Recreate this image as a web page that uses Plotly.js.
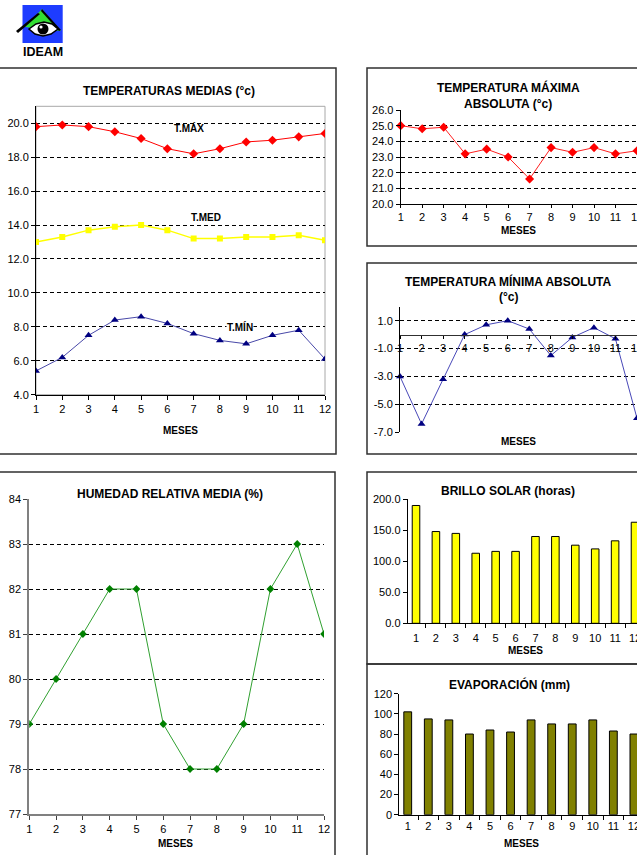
<!DOCTYPE html>
<html><head><meta charset="utf-8">
<script src="https://cdn.plot.ly/plotly-3.0.1.min.js"></script>
<style>html,body{margin:0;padding:0;background:#fff;}#chart{width:637px;height:855px;}</style>
</head><body><div id="chart"></div>
<script>
// ---- data ----
const meses = [1,2,3,4,5,6,7,8,9,10,11,12];
const mesesCat = ['1','2','3','4','5','6','7','8','9','10','11','12'];
const tMax = [19.8,19.9,19.8,19.5,19.1,18.5,18.2,18.5,18.9,19.0,19.2,19.4];
const tMed = [13.0,13.3,13.7,13.9,14.0,13.7,13.2,13.2,13.3,13.3,13.4,13.1];
const tMin = [5.4,6.2,7.5,8.4,8.6,8.2,7.6,7.2,7.0,7.5,7.8,6.1];
const tMaxAbs = [25.0,24.8,24.9,23.2,23.5,23.0,21.6,23.6,23.3,23.6,23.2,23.4];
const tMinAbs = [-3.0,-6.4,-3.2,0.0,0.7,1.0,0.4,-1.5,-0.2,0.5,-0.3,-6.0];
const humedad = [79,80,81,82,82,79,78,78,79,82,83,81];
const brillo = [190,148,145,113,116,116,140,140,126,120,133,163];
const evap = [102,95,94,80,84,82,94,90,90,94,83,80];
// tick labels
const tMinTickVals = [-7,-5,-3,-1,1];
const tMinTickText = ['-7.0','-5.0','-3.0','-1.0','1.0'];
// gridline levels
const gridMedias = [6,8,10,12,14,16,18,20];
const gridMaxAbs = [21,22,23,24,25];
const gridMinAbs = [-5,-3,-1,1];
const gridHum = [78,79,80,81,82,83];

// ---- helpers ----
const W = 637, H = 855;
const F = 'Arial, "Liberation Sans", sans-serif';
const px = v => v / W;
const py = v => 1 - v / H;
function ann(text, x, y, size, bold) {
  return {text: bold ? '<b>' + text + '</b>' : text, xref:'paper', yref:'paper',
    x: px(x), y: py(y), showarrow:false, xanchor:'center', yanchor:'middle',
    font:{family:F, size:size, color:'#000'}};
}
function box(x0, y0, x1, y1, color, w) {
  return {type:'rect', xref:'paper', yref:'paper', x0:px(x0), x1:px(x1), y0:py(y0), y1:py(y1),
    line:{color:color, width:w}, fillcolor:'rgba(0,0,0,0)', layer:'below'};
}
function poly(pts, fill, lineColor, lw) {
  let d = pts.map((p, i) => (i ? 'L' : 'M') + px(p[0]).toFixed(5) + ',' + py(p[1]).toFixed(5)).join(' ') + ' Z';
  return {type:'path', xref:'paper', yref:'paper', path:d, fillcolor:fill,
    line:{color:lineColor || fill, width: lw || 0}, layer:'above'};
}
function circ(cx, cy, rx, ry, fill, lineColor, lw) {
  return {type:'circle', xref:'paper', yref:'paper', x0:px(cx-rx), x1:px(cx+rx), y0:py(cy+ry), y1:py(cy-ry),
    fillcolor:fill, line:{color:lineColor || fill, width: lw || 0}, layer:'above'};
}
function axis(extra) {
  return Object.assign({showline:true, linecolor:'#000', linewidth:1, ticks:'outside', ticklen:4,
    tickcolor:'#000', tickwidth:1, tickfont:{family:F, size:11, color:'#000'}, tickangle:0,
    showgrid:false, zeroline:false, fixedrange:true}, extra);
}
function grid(vals) {
  return {tickmode:'array', tickvals:vals, showgrid:true, gridcolor:'#000', gridwidth:1, griddash:'4px,3px', ticks:''};
}

// domains
const y3dom = [py(432.3), py(306.7)];
const y3range = [-7, 2];
const x3pos = y3dom[0] + (0 - y3range[0]) / (y3range[1] - y3range[0]) * (y3dom[1] - y3dom[0]);

const traces = [
  {x:meses, y:tMax, xaxis:'x', yaxis:'y', mode:'lines+markers', line:{color:'#ff0000', width:1},
   marker:{symbol:'diamond', size:7, color:'#ff0000'}},
  {x:meses, y:tMed, xaxis:'x', yaxis:'y', mode:'lines+markers', line:{color:'#ffff00', width:1.5},
   marker:{symbol:'square', size:6, color:'#ffff00'}},
  {x:meses, y:tMin, xaxis:'x', yaxis:'y', mode:'lines+markers', line:{color:'#4848a8', width:1},
   marker:{symbol:'triangle-up', size:7, color:'#000080'}},
  {x:meses, y:tMaxAbs, xaxis:'x2', yaxis:'y2', mode:'lines+markers', line:{color:'#ff2020', width:1},
   marker:{symbol:'diamond', size:7, color:'#ff0000'}, cliponaxis:false},
  {x:meses, y:tMinAbs, xaxis:'x3', yaxis:'y3', mode:'lines+markers', line:{color:'#4848b8', width:1},
   marker:{symbol:'triangle-up', size:7, color:'#000080'}, cliponaxis:false},
  {x:meses, y:humedad, xaxis:'x4', yaxis:'y4', mode:'lines+markers', line:{color:'#30a030', width:1},
   marker:{symbol:'diamond', size:6, color:'#008000'}},
  {x:mesesCat, y:brillo, xaxis:'x5', yaxis:'y5', type:'bar',
   marker:{color:'#ffff00', line:{color:'#000', width:1}}},
  {x:mesesCat, y:evap, xaxis:'x6', yaxis:'y6', type:'bar',
   marker:{color:'#808000', line:{color:'#000', width:1}}}
];

const layout = {
  width:W, height:H, margin:{l:0, r:0, t:0, b:0, pad:0},
  paper_bgcolor:'#fff', plot_bgcolor:'rgba(0,0,0,0)', showlegend:false, bargap:0.62,
  font:{family:F, size:11, color:'#000'},
  xaxis: axis({domain:[px(36), px(325)], range:[1,12], tickmode:'array', tickvals:meses, anchor:'y'}),
  yaxis: axis({domain:[py(394.7), py(106.3)], range:[4,21], tick0:4, dtick:2, tickformat:'.1f', anchor:'x', minor:grid(gridMedias)}),
  xaxis2: axis({domain:[px(400.7), 1], range:[1,12], tickmode:'array', tickvals:meses, anchor:'y2', ticklen:3, ticklabeloverflow:'allow'}),
  yaxis2: axis({domain:[py(204), py(110)], range:[20,26], tick0:20, dtick:1, tickformat:'.1f', anchor:'x2', minor:grid(gridMaxAbs)}),
  xaxis3: axis({domain:[px(400), 1], range:[1,12], tickmode:'array', tickvals:meses, anchor:'free', position:x3pos,
    linecolor:'#303030', ticklen:3, ticklabeloverflow:'allow'}),
  yaxis3: axis({domain:y3dom, range:y3range, tickmode:'array', tickvals:tMinTickVals, ticktext:tMinTickText, anchor:'x3', minor:grid(gridMinAbs)}),
  xaxis4: axis({domain:[px(29.3), px(324)], range:[1,12], tickmode:'array', tickvals:meses, anchor:'y4',
    linecolor:'#808080', linewidth:2, tickcolor:'#404040'}),
  yaxis4: axis({domain:[py(814), py(499)], range:[77,84], tick0:77, dtick:1, anchor:'x4',
    linecolor:'#808080', linewidth:2, tickcolor:'#404040', minor:grid(gridHum)}),
  xaxis5: axis({type:'category', domain:[px(407.7), 1], range:[-0.417, 11.1], tickson:'boundaries', anchor:'y5',
    ticklabeloverflow:'allow', ticklabelstandoff:4}),
  yaxis5: axis({domain:[py(623.3), py(499.3)], range:[0,200], tick0:0, dtick:50, tickformat:'.1f', anchor:'x5'}),
  xaxis6: axis({type:'category', domain:[px(399.3), 1], range:[-0.41, 11.15], tickson:'boundaries', anchor:'y6',
    ticklabeloverflow:'allow', ticklabelstandoff:1}),
  yaxis6: axis({domain:[py(814.7), py(693.7)], range:[0,120], tick0:0, dtick:20, anchor:'x6'}),
  shapes: [
    box(-2, 68, 336, 454, '#303030', 1.5),
    box(367, 68, 642, 246, '#303030', 1.5),
    box(367, 263, 642, 454, '#303030', 1.5),
    box(-2, 472, 335, 860, '#303030', 1.5),
    box(367, 472, 642, 664, '#303030', 1.5),
    box(367, 664, 642, 860, '#303030', 1.5),
    {type:'rect', xref:'x domain', yref:'y domain', x0:0, x1:1, y0:0, y1:1, line:{color:'#a8a8a8', width:1}, layer:'below'},
    // logo
    {type:'rect', xref:'paper', yref:'paper', x0:px(22.5), x1:px(62.7), y0:py(43), y1:py(5), fillcolor:'#1e3cff', line:{width:0}, layer:'above'},
    poly([[42,9],[25,27],[61,31]], '#33dd33'),
    poly([[16,31],[38,13],[40,14],[18,33]], '#000'),
    poly([[42,9],[61,30],[59,31],[41,11]], '#000'),
    poly([[29,29],[36,24],[44,22],[52,24],[58,29],[51,34],[43,36],[35,34]], '#ffffff', '#000', 1.5),
    circ(43, 29, 5.5, 5.5, '#000'),
    circ(41, 27, 1.6, 1.6, '#ffffff')
  ],
  annotations: [
    ann('IDEAM', 43, 52.5, 12.5, true),
    ann('TEMPERATURAS MEDIAS (°c)', 169, 91, 12, true),
    ann('TEMPERATURA MÁXIMA', 508, 88, 12, true),
    ann('ABSOLUTA (°c)', 508, 104, 12, true),
    ann('TEMPERATURA MÍNIMA ABSOLUTA', 508.5, 281, 12, true),
    ann('(°c)', 508.5, 297, 12, true),
    ann('HUMEDAD RELATIVA MEDIA (%)', 170, 494, 12, true),
    ann('BRILLO SOLAR (horas)', 508, 491, 12, true),
    ann('EVAPORACIÓN (mm)', 509, 684, 12, true),
    ann('MESES', 180, 430, 10, true),
    ann('MESES', 518, 231, 10, true),
    ann('MESES', 518, 441, 10, true),
    ann('MESES', 175, 843, 10, true),
    ann('MESES', 525.5, 650, 10, true),
    ann('MESES', 521, 843, 10, true),
    {text:'<b>T.MÁX</b>', xref:'x', yref:'y', x:6.81, y:19.7, showarrow:false, font:{family:F, size:10, color:'#000'}},
    {text:'<b>T.MED</b>', xref:'x', yref:'y', x:7.46, y:14.44, showarrow:false, font:{family:F, size:10, color:'#000'}},
    {text:'<b>T.MÍN</b>', xref:'x', yref:'y', x:8.75, y:8.02, showarrow:false, bgcolor:'#fff', borderpad:0, font:{family:F, size:10, color:'#000'}}
  ]
};

Plotly.newPlot('chart', traces, layout, {staticPlot:true, displayModeBar:false});
</script>
</body></html>
